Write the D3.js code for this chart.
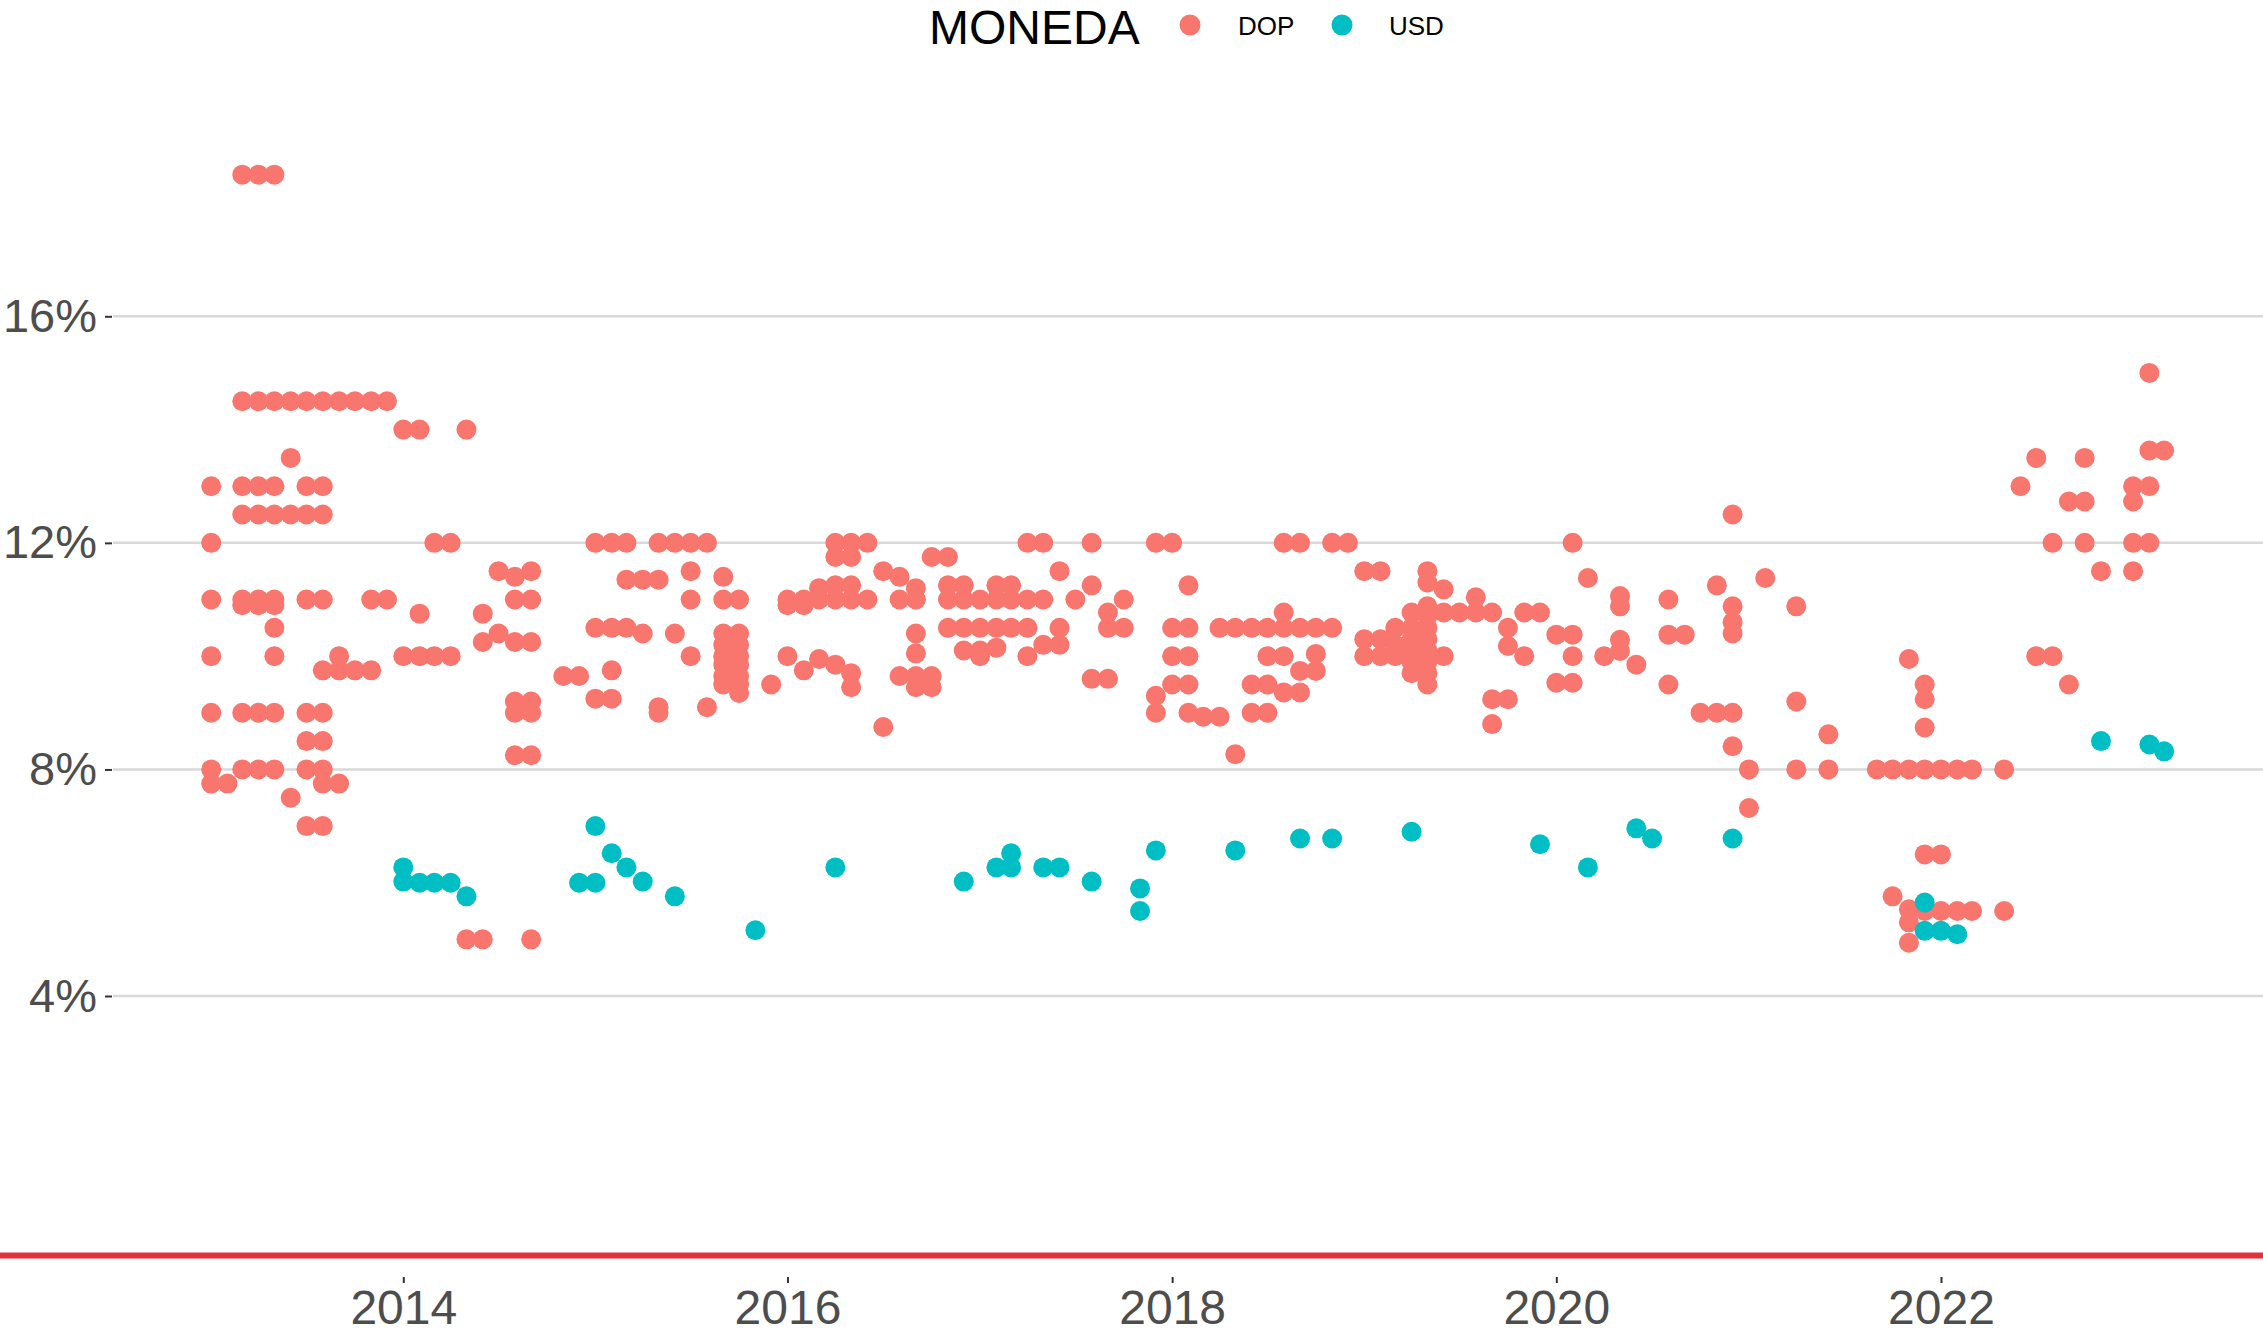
<!DOCTYPE html>
<html>
<head>
<meta charset="utf-8">
<script src="https://cdn.jsdelivr.net/npm/d3@7"></script>
<style>
  html, body { margin: 0; padding: 0; background: #ffffff; }
  svg { display: block; font-family: "Liberation Sans", Arial, Helvetica, sans-serif; }
</style>
</head>
<body>
<svg id="chart" width="2263" height="1334"></svg>
<script>
// ---- data (month, list of rates in %) ----
const seriesNames = ["DOP", "USD"];
const seriesColors = ["#F8766D", "#00BFC4"];
const legendTitle = "MONEDA";
const yTickValues = [4, 8, 12, 16];
const xTickYears = [2014, 2016, 2018, 2020, 2022];

const dopMonths = ["2013-01","2013-02","2013-03","2013-04","2013-05","2013-06","2013-07","2013-08","2013-09","2013-10","2013-11","2013-12",
"2014-01","2014-02","2014-03","2014-04","2014-05","2014-06","2014-07","2014-08","2014-09","2014-11","2014-12",
"2015-01","2015-02","2015-03","2015-04","2015-05","2015-06","2015-07","2015-08","2015-09","2015-10","2015-12",
"2016-01","2016-02","2016-03","2016-04","2016-05","2016-06","2016-07","2016-08","2016-09","2016-10","2016-11","2016-12",
"2017-01","2017-02","2017-03","2017-04","2017-05","2017-06","2017-07","2017-08","2017-09","2017-10","2017-12",
"2018-01","2018-02","2018-03","2018-04","2018-05","2018-06","2018-07","2018-08","2018-09","2018-10","2018-11","2018-12",
"2019-01","2019-02","2019-03","2019-04","2019-05","2019-06","2019-07","2019-08","2019-09","2019-10","2019-11","2019-12",
"2020-01","2020-02","2020-03","2020-04","2020-05","2020-06","2020-08","2020-09","2020-10","2020-11","2020-12",
"2021-01","2021-02","2021-04","2021-06","2021-09","2021-10","2021-11","2021-12",
"2022-01","2022-02","2022-03","2022-05","2022-06","2022-07","2022-08","2022-09","2022-10","2022-11",
"2023-01","2023-02","2023-03"];
const dopRates = [[13,12,11,10,9,8,7.75],[7.75],[18.5,14.5,13,12.5,11,10.9,9,8],[18.5,14.5,13,12.5,11,10.9,9,8],[18.5,14.5,13,12.5,11,10.9,10.5,10,9,8],[14.5,13.5,12.5,7.5],[14.5,13,12.5,11,9,8.5,8,7],[14.5,13,12.5,11,9.75,9,8.5,8,7.75,7],[14.5,10,9.75,7.75],[14.5,9.75],[14.5,11,9.75],[14.5,11],
[14,10],[14,10.75,10],[12,10],[12,10],[14,5],[10.75,10.25,5],[11.5,10.4],[11.4,11,10.25,9.2,9,8.25],[11.5,11,10.25,9.2,9,8.25,5],[9.65],[9.65],
[12,10.5,9.25],[12,10.5,9.75,9.25],[12,11.35,10.5],[11.35,10.4],[12,11.35,9.1,9],[12,10.4],[12,11.5,11,10],[12,9.1],[11.4,11,10.4,10.2,10,9.85,9.65,9.5],[11,10.4,10.2,10,9.85,9.65,9.5,9.35],[9.5],
[11,10.9,10],[11,10.9,9.75],[11.2,11,9.95],[12,11.75,11.25,11,9.85],[12,11.75,11.25,11,9.7,9.45],[12,11],[11.5,8.75],[11.4,11,9.65],[11.2,11,10.4,10.05,9.65,9.45],[11.75,9.65,9.45],[11.75,11.25,11,10.5],[11.25,11,10.5,10.1],
[11,10.5,10.1,10],[11.25,11,10.5,10.15],[11.25,11,10.5],[12,11,10.5,10],[12,11,10.2],[11.5,10.5,10.2],[11],[12,11.25,9.6],[10.77,10.5,9.6],[11,10.5],[12,9.3,9],
[12,10.5,10,9.5],[11.25,10.5,10,9.5,9],[8.93],[10.5,8.93],[10.5,8.27],[10.5,9.5,9],[10.5,10,9.5,9],[12,10.77,10.5,10,9.36],[12,10.5,9.74,9.36],[10.5,10.04,9.74],[12,10.5],[12],
[11.5,10.3,10],[11.5,10.3,10],[10.5,10.2,10],[10.77,10.5,10.3,10.1,9.9,9.7],[11.5,11.3,10.88,10.7,10.5,10.3,10.1,9.9,9.7,9.5],[11.18,10.77,10],[10.77],[11.04,10.77],[10.77,9.24,8.8],[10.5,10.18,9.24],[10.77,10],[10.77],
[10.38,9.53],[12,10.38,10,9.53],[11.38],[10],[11.06,10.88,10.29,10.09],[9.85],[11,10.38,9.5],[10.38],[9],[11.25,9],[12.5,10.88,10.6,10.4,9,8.41],
[8,7.32],[11.38],[10.88,9.2,8],[8.62,8],[8],[8,5.76],[9.95,8,5.53,5.3,4.94],[9.5,9.24,8.74,8,6.5,5.5],
[8,6.5,5.5],[8,5.5],[8,5.5],[8,5.5],[13],[13.5,10],[12,10],[12.73,9.5],[13.5,12.73,12],[11.5],
[13,12.73,12,11.5],[15,13.63,13,12],[13.63]];

const usdMonths = ["2014-01","2014-02","2014-03","2014-04","2014-05","2014-12","2015-01","2015-02","2015-03","2015-04","2015-06","2015-11",
"2016-04","2016-12","2017-02","2017-03","2017-05","2017-06","2017-08","2017-11","2017-12","2018-05","2018-09","2018-11",
"2019-04","2019-12","2020-03","2020-06","2020-07","2020-12","2021-12","2022-01","2022-02","2022-11","2023-02","2023-03"];
const usdRates = [[6.27,6.02],[6],[6],[6],[5.76],[6],[7,6],[6.52],[6.27],[6.02],[5.76],[5.16],
[6.27],[6.02],[6.27],[6.52,6.27],[6.27],[6.27],[6.02],[5.9,5.5],[6.57],[6.57],[6.78],[6.78],
[6.9],[6.68],[6.27],[6.96],[6.78],[6.78],[5.65,5.15],[5.15],[5.09],[8.5],[8.44],[8.32]];

// ---- build points ----
const parseMonth = d3.timeParse("%Y-%m");
function flatten(months, rates, series) {
  const out = [];
  months.forEach((m, i) => rates[i].forEach(v => out.push({date: parseMonth(m), value: v, series})));
  return out;
}
const points = flatten(dopMonths, dopRates, "DOP").concat(flatten(usdMonths, usdRates, "USD"));

// ---- layout ----
const W = 2263, H = 1334;
const svg = d3.select("#chart");
const x = d3.scaleTime()
  .domain([new Date(2014, 0, 1), new Date(2022, 0, 1)])
  .range([403.3, 1941]);
const y = d3.scaleLinear().domain([4, 16]).range([996, 316.3]);
const color = d3.scaleOrdinal().domain(seriesNames).range(seriesColors);

const plotLeft = 113, plotRight = W;

// gridlines
svg.append("g").selectAll("line").data(yTickValues).join("line")
  .attr("x1", plotLeft).attr("x2", plotRight)
  .attr("y1", d => y(d)).attr("y2", d => y(d))
  .attr("stroke", "#d9d9d9").attr("stroke-width", 2.5);

// y axis
const yAxis = svg.append("g").attr("transform", `translate(${plotLeft - 1},0)`)
  .call(d3.axisLeft(y).tickValues(yTickValues).tickSize(7).tickPadding(8).tickFormat(d => d + "%"));
yAxis.select(".domain").remove();
yAxis.selectAll(".tick line").attr("stroke", "#333333").attr("stroke-width", 2);
yAxis.selectAll(".tick text").attr("fill", "#4d4d4d").style("font-size", "47px")
  .style("font-family", "'Liberation Sans', Arial, sans-serif");

// points
svg.append("g").selectAll("circle").data(points).join("circle")
  .attr("cx", d => x(d.date)).attr("cy", d => y(d.value))
  .attr("r", 10).attr("fill", d => color(d.series));

// red baseline
svg.append("line").attr("x1", 0).attr("x2", W).attr("y1", 1255.5).attr("y2", 1255.5)
  .attr("stroke", "#e3303b").attr("stroke-width", 6);

// x axis
const xAxis = svg.append("g").attr("transform", "translate(0,1277)")
  .call(d3.axisBottom(x).tickValues(xTickYears.map(yr => new Date(yr, 0, 1)))
    .tickSize(6).tickPadding(7).tickFormat(d3.timeFormat("%Y")));
xAxis.select(".domain").remove();
xAxis.selectAll(".tick line").attr("stroke", "#333333").attr("stroke-width", 2);
xAxis.selectAll(".tick text").attr("fill", "#4d4d4d").style("font-size", "48px")
  .style("font-family", "'Liberation Sans', Arial, sans-serif");

// legend
const lg = svg.append("g");
lg.append("text").attr("x", 929).attr("y", 44).text(legendTitle)
  .attr("fill", "#000").style("font-size", "48px");
const legendItems = [{name: "DOP", cx: 1190, tx: 1238}, {name: "USD", cx: 1342, tx: 1389}];
legendItems.forEach(it => {
  lg.append("circle").attr("cx", it.cx).attr("cy", 25).attr("r", 10.5).attr("fill", color(it.name));
  lg.append("text").attr("x", it.tx).attr("y", 35).text(it.name)
    .attr("fill", "#000").style("font-size", "26px");
});
</script>
</body>
</html>
